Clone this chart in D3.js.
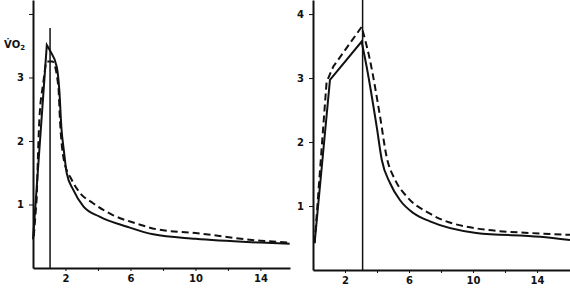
<!DOCTYPE html>
<html lang="en">
  <head>
    <meta charset="UTF-8" />
    <title>VO2 recovery curves</title>
    <script src="https://cdnjs.cloudflare.com/ajax/libs/d3/7.8.5/d3.min.js"></script>
    <style>
      body {
        margin: 0;
        background: #fff;
      }
      .axis text {
        font-family: "DejaVu Sans", sans-serif;
        font-weight: bold;
        font-size: 10px;
        fill: #111;
      }
      .axis path,
      .axis line {
        stroke: #111;
      }
    </style>
  </head>
  <body>
    <div id="chart"></div>
    <script>
      const width = 570;
      const height = 290;

      // left panel (time in min, VO2 in l/min)
      const leftSolidT = [0, 0.85, 1.05, 1.46, 1.62, 1.75, 1.9, 2.07, 2.48, 3.1, 4.1, 5.8, 7.4, 10, 14, 15.8];
      const leftSolidV = [0.45, 3.51, 3.42, 3.17, 2.8, 2.2, 1.85, 1.5, 1.23, 0.97, 0.81, 0.65, 0.53, 0.46, 0.4, 0.38];
      const leftDashT = [0.05, 0.23, 0.39, 0.63, 0.85, 1.2, 1.56, 1.66, 1.9, 2.38, 2.9, 3.7, 4.94, 6.38, 7.6, 10, 14, 15.8];
      const leftDashV = [0.5, 1.1, 2.33, 2.91, 3.25, 3.25, 2.86, 2.33, 1.7, 1.39, 1.18, 1.02, 0.83, 0.7, 0.61, 0.55, 0.43, 0.4];
      const leftMarkT = 1.05;
      const leftMarkTop = 3.78;

      // right panel
      const rightSolidT = [0.1, 1.06, 3.04, 3.35, 3.98, 4.3, 4.81, 5.44, 6.27, 7.31, 10.2, 14.2, 16.06];
      const rightSolidV = [0.42, 2.97, 3.57, 3.18, 2.24, 1.72, 1.36, 1.09, 0.89, 0.76, 0.58, 0.52, 0.47];
      const rightDashT = [0.1, 0.85, 1.27, 3.04, 3.56, 4.19, 4.6, 5.13, 5.85, 7.31, 10.2, 14.2, 16.06];
      const rightDashV = [0.42, 2.94, 3.18, 3.8, 3.28, 2.4, 1.77, 1.41, 1.15, 0.88, 0.65, 0.57, 0.55];
      const rightMarkT = 3.1;

      const xTicks = [2, 4, 6, 8, 10, 12, 14];
      const xLabels = [2, 6, 10, 14];

      const svg = d3
        .select("#chart")
        .append("svg")
        .attr("width", width)
        .attr("height", height);

      function panel(cfg) {
        const x = d3.scaleLinear().domain([0, cfg.xMax]).range([cfg.left, cfg.right]);
        const y = d3.scaleLinear().domain([0, cfg.yMax]).range([cfg.bottom, 0]);
        const g = svg.append("g");

        g.append("g")
          .attr("class", "axis")
          .attr("transform", `translate(0,${cfg.bottom})`)
          .call(
            d3
              .axisBottom(x)
              .tickValues(xTicks)
              .tickSize(3)
              .tickSizeOuter(0)
              .tickPadding(4)
              .tickFormat((d) => (xLabels.includes(d) ? d : ""))
          )
          .call((a) => a.select(".domain").attr("stroke-width", 2));

        g.append("g")
          .attr("class", "axis")
          .attr("transform", `translate(${cfg.left},0)`)
          .call(
            d3
              .axisLeft(y)
              .tickValues([1, 2, 3, 4])
              .tickSize(4)
              .tickSizeOuter(0)
              .tickPadding(5)
              .tickFormat((d) => (cfg.yLabels.includes(d) ? d : ""))
          )
          .call((a) => a.select(".domain").attr("stroke-width", 2));

        // vertical marker (end of exercise)
        g.append("line")
          .attr("x1", x(cfg.markT))
          .attr("x2", x(cfg.markT))
          .attr("y1", y(0))
          .attr("y2", y(cfg.markTop))
          .attr("stroke", "#111")
          .attr("stroke-width", 1.5);

        const rise = d3
          .line()
          .x((d) => x(d[0]))
          .y((d) => y(d[1]));
        const decay = d3
          .line()
          .curve(d3.curveMonotoneX)
          .x((d) => x(d[0]))
          .y((d) => y(d[1]));

        // straight rise up to the peak, smooth recovery after it
        function curvePath(pts, split) {
          return rise(pts.slice(0, split + 1)) + decay(pts.slice(split)).replace(/^M/, "L");
        }

        g.append("path")
          .attr("d", curvePath(d3.zip(cfg.solidT, cfg.solidV), cfg.solidSplit))
          .attr("fill", "none")
          .attr("stroke", "#111")
          .attr("stroke-width", 2);

        g.append("path")
          .attr("d", curvePath(d3.zip(cfg.dashT, cfg.dashV), cfg.dashSplit))
          .attr("fill", "none")
          .attr("stroke", "#111")
          .attr("stroke-width", 2)
          .attr("stroke-dasharray", "7,4");
      }

      panel({
        left: 33, right: 290, bottom: 268, xMax: 15.82, yMax: 4.22,
        yLabels: [1, 2, 3],
        solidT: leftSolidT, solidV: leftSolidV, solidSplit: 1,
        dashT: leftDashT, dashV: leftDashV, dashSplit: 1,
        markT: leftMarkT, markTop: leftMarkTop,
      });

      panel({
        left: 313, right: 570, bottom: 270, xMax: 16.06, yMax: 4.22,
        yLabels: [1, 2, 3, 4],
        solidT: rightSolidT, solidV: rightSolidV, solidSplit: 2,
        dashT: rightDashT, dashV: rightDashV, dashSplit: 3,
        markT: rightMarkT, markTop: 4.22,
      });

      // y axis title
      const title = svg
        .append("text")
        .attr("x", 4)
        .attr("y", 48)
        .attr("font-family", "DejaVu Sans, sans-serif")
        .attr("font-weight", "bold")
        .attr("font-size", 10)
        .attr("fill", "#111");
      title.append("tspan").text("V\u0307O");
      title.append("tspan").attr("font-size", 7).attr("dy", 2).text("2");
    </script>
  </body>
</html>
